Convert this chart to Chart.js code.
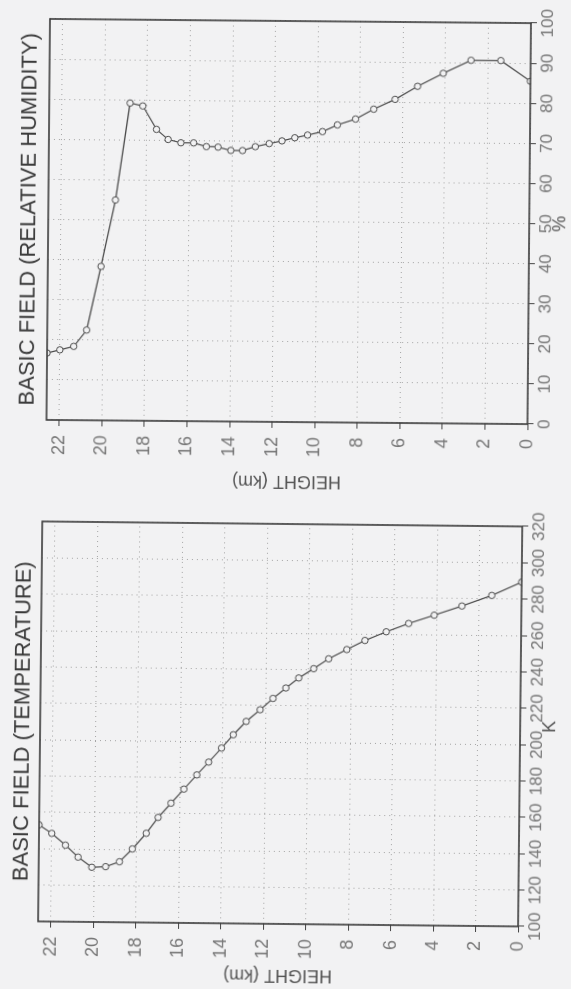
<!DOCTYPE html>
<html>
<head>
<meta charset="utf-8">
<script src="https://cdn.jsdelivr.net/npm/chart.js@4.4.0/dist/chart.umd.min.js"></script>
<style>
  html, body { margin: 0; padding: 0; background: #f2f2f3; }
  body { width: 571px; height: 989px; position: relative; overflow: hidden; }
  canvas { position: absolute; left: 38px; transform-origin: 50% 50%; }
  #graphe-humidite { top: -38px; transform: rotate(-89.5deg); }
  #graphe-temperature { top: 456px; transform: rotate(-89.4deg); }
</style>
</head>
<body>
<canvas id="graphe-humidite" width="495" height="571"></canvas>
<canvas id="graphe-temperature" width="495" height="571"></canvas>
<script>
// model levels (km), from the ground up
const hauteurs = [0, 1.4, 2.8, 4.1, 5.3, 6.35, 7.35, 8.2, 9.05, 9.75, 10.45, 11.05, 11.65, 12.25, 12.9, 13.5,
  14.05, 14.65, 15.2, 15.8, 16.4, 17.0, 17.55, 18.2, 18.8, 19.45, 20.1, 20.75, 21.35, 22.0, 22.6]

// relative humidity (%)
const humidite = [85.5, 90.6, 90.6, 87.3, 84.0, 80.7, 78.2, 75.7, 74.2, 72.5, 71.6, 70.9, 70.1, 69.4, 68.6, 67.6,
  67.6, 68.4, 68.5, 69.4, 69.4, 70.2, 72.7, 78.5, 79.2, 55.0, 38.4, 22.5, 18.4, 17.5, 16.7]

// temperature (K)
const temperature = [289.4, 281.9, 275.9, 270.7, 266.0, 261.3, 256.4, 251.3, 246.1, 240.6, 235.4, 229.8, 224.0, 217.7,
  211.2, 203.8, 196.4, 188.6, 181.5, 173.6, 165.8, 157.9, 149.1, 140.4, 133.3, 130.5, 130.1, 135.6, 142.1, 148.5, 153.1]

const ticksHauteur = [0, 2, 4, 6, 8, 10, 12, 14, 16, 18, 20, 22]
const ticksHumidite = [0, 10, 20, 30, 40, 50, 60, 70, 80, 90, 100]
const ticksTemperature = [100, 120, 140, 160, 180, 200, 220, 240, 260, 280, 300, 320]

Chart.defaults.font.family = "'Liberation Sans', Arial, sans-serif"
Chart.defaults.animation = false

const fond = '#f2f2f3'

// box around the plot area
const cadre = {
  id: 'cadre',
  afterDatasetsDraw(chart) {
    const {ctx, chartArea: a} = chart
    ctx.save()
    ctx.strokeStyle = '#3a3a3a'
    ctx.lineWidth = 1.6
    ctx.strokeRect(a.left, a.top, a.right - a.left, a.bottom - a.top)
    ctx.restore()
  }
}

function graphe (id, valeurs, ticksValeurs, titre, unite, zone, titrePad, uniteBas) {
  const points = valeurs.map((v, i) => ({x: v, y: hauteurs[i]}))
  const grille = {color: '#a4a4a4', lineWidth: 1, tickColor: '#444', tickLength: 6, tickWidth: 1}
  new Chart(document.getElementById(id), {
    type: 'line',
    data: {
      datasets: [{
        data: points,
        borderColor: '#4a4a4a',
        borderWidth: 1.2,
        tension: 0,
        pointRadius: 3.2,
        pointBorderWidth: 1,
        pointBorderColor: '#4a4a4a',
        pointBackgroundColor: fond
      }]
    },
    options: {
      responsive: false,
      layout: {padding: {left: 0, top: 0, bottom: 0, right: 495 - zone.right}},
      plugins: {
        legend: {display: false},
        tooltip: {enabled: false},
        title: {
          display: true,
          text: titre,
          fullSize: false,
          color: '#3a3a3a',
          font: {size: 22, weight: 'normal'},
          padding: titrePad
        }
      },
      scales: {
        x: {
          type: 'linear',
          min: ticksValeurs[0],
          max: ticksValeurs[ticksValeurs.length - 1],
          afterBuildTicks: s => { s.ticks = ticksValeurs.map(v => ({value: v})) },
          afterFit: s => { s.height = 571 - zone.bottom },
          ticks: {autoSkip: false, maxRotation: 0, padding: 1, color: '#777', font: {size: 17}},
          title: {display: true, text: unite, color: '#555', font: {size: 18}, padding: {top: 0, bottom: uniteBas}},
          grid: grille,
          border: {display: false, dash: [1, 4]}
        },
        y: {
          type: 'linear',
          min: 0,
          max: 22.6,
          afterBuildTicks: s => { s.ticks = ticksHauteur.map(v => ({value: v})) },
          afterFit: s => { s.width = zone.left },
          ticks: {autoSkip: false, padding: 9, color: '#777', font: {size: 18}},
          title: {display: true, text: 'HEIGHT (km)', color: '#555', font: {size: 18}, padding: {top: 3, bottom: 0}},
          grid: grille,
          border: {display: false, dash: [1, 4]}
        }
      }
    },
    plugins: [cadre]
  })
}

graphe('graphe-humidite', humidite, ticksHumidite, 'BASIC FIELD (RELATIVE HUMIDITY)', '%',
  {left: 73, right: 474, top: 48, bottom: 529}, {top: 16, bottom: 5.6}, 0)
graphe('graphe-temperature', temperature, ticksTemperature, 'BASIC FIELD (TEMPERATURE)', 'K',
  {left: 65, right: 465, top: 40, bottom: 520}, {top: 10, bottom: 3.6}, 10)
</script>
</body>
</html>
